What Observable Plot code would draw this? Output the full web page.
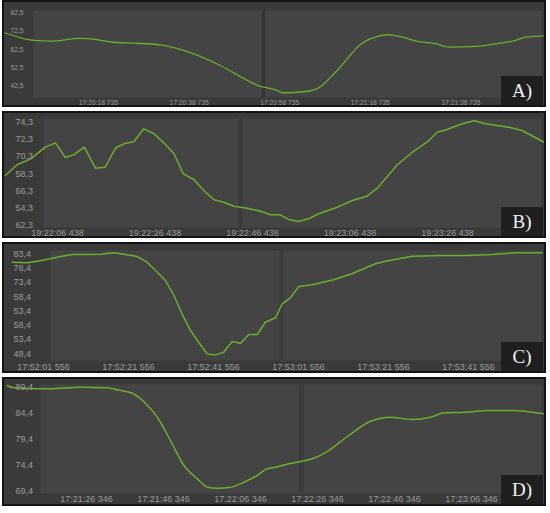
<!DOCTYPE html>
<html><head><meta charset="utf-8">
<script src="https://cdn.jsdelivr.net/npm/d3@7"></script>
<script src="https://cdn.jsdelivr.net/npm/@observablehq/plot@0.6"></script>
<style>
html,body{margin:0;padding:0;background:#fff;}
body{width:550px;height:513px;overflow:hidden;position:relative;font-family:"Liberation Sans",Arial,sans-serif}
.panel{position:absolute;left:2px;width:540px;border:2px solid #141414;background:#3a3a3a;overflow:hidden}
.panel svg{display:block}
.tag{position:absolute;right:1px;bottom:0;width:42px;height:29px;background:#1f1f1f;color:#f2f2f2;font-family:"Liberation Serif","Times New Roman",serif;font-size:19px;line-height:30px;text-align:center}
</style></head><body>
<script>
// ---- data (seconds relative to first x tick; values as plotted) ----
const panelTags = ["A)", "B)", "C)", "D)"];

const startA = [17, 20, 18, 735];
const timesA = [-20.7,-14.3,-10.6,-4.0,-1.8,3.3,7.7,13.7,21.0,26.9,32.9,35.1,39.1,40.8,45.7,48.6,52.3,58.5,61.1,64.0,66.2,70.6,74.4,77.7,83.2,89.2,91.4,94.3,98.2];
const valuesA = [71.6,67.4,67.0,68.5,68.3,66.4,65.9,65.0,60.1,53.7,45.5,42.8,40.4,38.8,39.5,41.5,50.0,66.4,69.2,70.5,69.7,66.8,65.6,63.7,64.1,66.1,67.0,69.2,69.9];
const xTicksA = [0, 20, 40, 60, 80];
const yTicksA = [82.5, 72.5, 62.5, 52.5, 42.5];
const yLabelsA = ["82,5", "72,5", "62,5", "52,5", "42,5"];
const cursorA = 36.4;

const startB = [19, 22, 6, 438];
const timesB = [-10.7,-8.3,-5.5,-2.5,-0.4,1.6,3.3,5.5,7.8,9.8,11.9,13.7,15.7,17.7,19.8,21.8,23.9,25.8,28.0,30.0,32.1,34.1,36.2,38.9,41.3,43.7,45.7,47.4,49.5,51.5,53.6,57.4,60.5,63.5,65.6,69.7,72.8,75.8,77.9,79.9,83.0,85.4,87.8,92.6,95.3,99.8];
const valuesB = [68.1,69.35,70.04,71.4,71.9,70.2,70.5,71.4,68.95,69.07,71.3,71.8,72.06,73.53,72.95,71.9,70.63,68.3,67.64,66.36,65.28,65.0,64.53,64.3,64.0,63.53,63.53,62.99,62.75,63.07,63.65,64.42,65.2,65.7,66.63,69.35,70.81,71.97,73.14,73.45,74.11,74.46,74.11,73.72,73.33,71.97];
const xTicksB = [0, 20, 40, 60, 80];
const yTicksB = [74.3, 72.3, 70.3, 68.3, 66.3, 64.3, 62.3];
const yLabelsB = ["74,3", "72,3", "70,3", "58,3", "66,3", "54,3", "62,3"];
const cursorB = 37.5;

const startC = [17, 52, 1, 556];
const timesC = [-7.4,-3.8,-1.5,1.6,4.0,6.8,10.3,13.4,16.5,19.3,22.0,24.4,26.8,28.7,30.7,32.6,34.6,36.5,38.5,40.5,42.4,44.4,46.4,48.3,50.3,52.2,54.6,56.2,58.1,60.1,63.2,68.3,72.6,78.1,80.5,86.8,93.8,99.3,105.6,111.1,117.3];
const valuesC = [80.46,80.25,80.81,81.65,82.46,83.16,83.16,83.26,83.75,83.16,82.46,80.46,76.97,74.06,68.82,62.42,56.58,52.49,48.4,48.05,48.96,52.73,52.14,55.18,55.18,59.48,61.02,65.92,68.02,71.97,72.56,74.31,76.41,79.9,80.81,82.56,82.81,82.81,83.16,83.75,83.75];
const xTicksC = [0, 20, 40, 60, 80, 100];
const yTicksC = [83.4, 78.4, 73.4, 68.4, 63.4, 58.4, 53.4, 48.4];
const yLabelsC = ["83,4", "78,4", "73,4", "58,4", "53,4", "58,4", "53,4", "48,4"];
const cursorC = 56;

const startD = [17, 21, 26, 346];
const timesD = [-20.6,-18.9,-11.9,-9.4,-1.6,5.4,8.0,11.9,15.3,18.4,21.8,25.3,28.8,31.4,33.9,37.4,40.9,44.3,46.9,49.1,52.5,56.0,58.6,62.9,68.1,73.8,79.0,84.6,89.4,92.8,98.4,104.5,110.6,115.8,118.8];
const valuesD = [89.73,89.29,89.09,89.09,89.4,89.29,88.9,88.25,86.33,83.65,79.19,74.4,71.85,70.24,70.05,70.24,71.2,72.48,73.77,74.07,74.73,75.22,75.68,77.27,80.15,82.89,83.65,83.21,83.65,84.5,84.61,84.94,84.94,84.61,84.3];
const xTicksD = [0, 20, 40, 60, 80, 100];
const yTicksD = [89.4, 84.4, 79.4, 74.4, 69.4];
const yLabelsD = ["89,4", "84,4", "79,4", "74,4", "69,4"];
const cursorD = 55.8;

// ---- layout / style ----
const fmt = d3.utcFormat("%H:%M:%S %L");
const mkDate = (start) => (s) => new Date(Date.UTC(2020, 0, 1, start[0], start[1], start[2], start[3]) + s * 1000);

const panels = [
  {top: 0,   h: 103, start: startA, t: timesA, v: valuesA, xt: xTicksA, yt: yTicksA, yl: yLabelsA, cur: cursorA,
   xdom: [-20.75, 98.45], ydom: [31.84, 88.13], inset: [8, 3, 8, 29], fs: 6.7, ydx: 6, xdy: -2.5, curve: "monotone-x", sw: 1.3, cw: 3.5, cc: "#343434"},
  {top: 111, h: 123, start: startB, t: timesB, v: valuesB, xt: xTicksB, yt: yTicksB, yl: yLabelsB, cur: cursorB,
   xdom: [-10.87, 99.9], ydom: [61.01, 75.31], inset: [5, 3, 9, 39], fs: 9, ydx: 11, xdy: -3, curve: "linear", sw: 1.5, cw: 4, cc: "#3b3b3b"},
  {top: 242, h: 127, start: startC, t: timesC, v: valuesC, xt: xTicksC, yt: yTicksC, yl: yLabelsC, cur: cursorC,
   xdom: [-9.18, 117.9], ydom: [42.25, 86.65], inset: [6, 3, 11, 46], fs: 9, ydx: 9, xdy: -4.3, curve: "linear", sw: 1.5, cw: 4, cc: "#3b3b3b"},
  {top: 377, h: 125, start: startD, t: timesD, v: valuesD, xt: xTicksD, yt: yTicksD, yl: yLabelsD, cur: cursorD,
   xdom: [-21.3, 118.96], ydom: [66.93, 90.88], inset: [5, 3, 11, 36], fs: 9, ydx: 11, xdy: -5.7, curve: "monotone-x", sw: 1.5, cw: 5, cc: "#3b3b3b"}
];

panels.forEach((p, k) => {
  const date = mkDate(p.start);
  const data = p.t.map((s, i) => ({time: date(s), value: p.v[i]}));
  const [iT, iR, iB, iL] = p.inset;
  const chart = Plot.plot({
    width: 540, height: p.h,
    marginTop: 0, marginBottom: 0, marginLeft: 0, marginRight: 0,
    x: {type: "utc", domain: p.xdom.map(date), axis: null},
    y: {domain: p.ydom, axis: null},
    style: {background: "transparent", fontFamily: "'Liberation Sans', Arial, sans-serif", overflow: "visible"},
    marks: [
      Plot.frame({fill: "#444444", stroke: "none", insetTop: iT, insetRight: iR, insetBottom: iB, insetLeft: iL}),
      Plot.ruleX([p.cur], {x: date, stroke: p.cc, strokeWidth: p.cw, insetTop: iT, insetBottom: iB}),
      Plot.line(data, {x: "time", y: "value", stroke: "#6aae2e", strokeWidth: p.sw, curve: p.curve}),
      Plot.text(p.yt, {y: d => d, text: (d, i) => p.yl[i], frameAnchor: "left", textAnchor: "start",
        dx: p.ydx, fill: "#9a9a9a", fontSize: p.fs, lineAnchor: "middle"}),
      Plot.text(p.xt, {x: date, text: s => fmt(date(s)), frameAnchor: "bottom", lineAnchor: "middle",
        dy: p.xdy, fill: "#9a9a9a", fontSize: p.fs})
    ]
  });
  const div = document.createElement("div");
  div.className = "panel";
  div.style.top = p.top + "px";
  div.style.height = p.h + "px";
  div.appendChild(chart);
  const tag = document.createElement("div");
  tag.className = "tag";
  tag.textContent = panelTags[k];
  div.appendChild(tag);
  document.body.appendChild(div);
});
</script>
</body></html>
